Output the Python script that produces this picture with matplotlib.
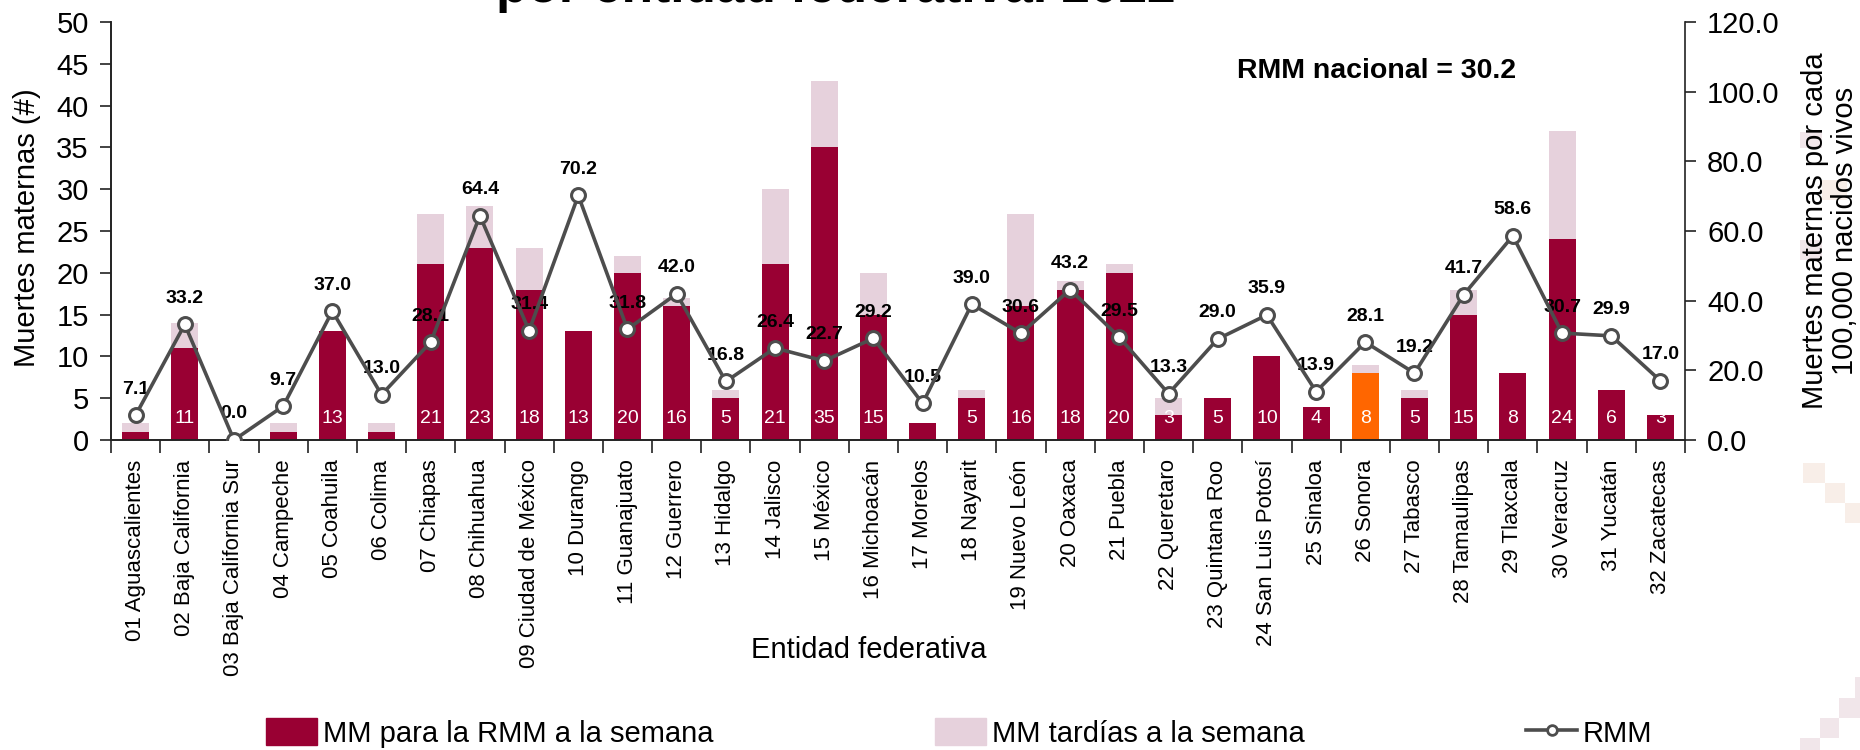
import matplotlib
matplotlib.use("Agg")
import matplotlib.pyplot as plt
import numpy as np
from matplotlib.patches import Patch, Rectangle
from matplotlib.lines import Line2D
from matplotlib.ticker import FormatStrFormatter, FixedLocator

plt.rcParams['font.family'] = ['Liberation Sans', 'DejaVu Sans']

entidades = ["01 Aguascalientes", "02 Baja California", "03 Baja California Sur",
             "04 Campeche", "05 Coahuila", "06 Colima", "07 Chiapas", "08 Chihuahua",
             "09 Ciudad de México", "10 Durango", "11 Guanajuato", "12 Guerrero",
             "13 Hidalgo", "14 Jalisco", "15 México", "16 Michoacán", "17 Morelos",
             "18 Nayarit", "19 Nuevo León", "20 Oaxaca", "21 Puebla", "22 Queretaro",
             "23 Quintana Roo", "24 San Luis Potosí", "25 Sinaloa", "26 Sonora",
             "27 Tabasco", "28 Tamaulipas", "29 Tlaxcala", "30 Veracruz", "31 Yucatán",
             "32 Zacatecas"]
mm_rmm = [1, 11, 0, 1, 13, 1, 21, 23, 18, 13, 20, 16, 5, 21, 35, 15, 2, 5, 16, 18,
          20, 3, 5, 10, 4, 8, 5, 15, 8, 24, 6, 3]
mm_tardias = [1, 3, 0, 1, 0, 1, 6, 5, 5, 0, 2, 1, 1, 9, 8, 5, 0, 1, 11, 1,
              1, 2, 0, 0, 0, 1, 1, 3, 0, 13, 0, 0]
rmm = [7.1, 33.2, 0.0, 9.7, 37.0, 13.0, 28.1, 64.4, 31.4, 70.2, 31.8, 42.0, 16.8,
       26.4, 22.7, 29.2, 10.5, 39.0, 30.6, 43.2, 29.5, 13.3, 29.0, 35.9, 13.9, 28.1,
       19.2, 41.7, 58.6, 30.7, 29.9, 17.0]
destacado = "26 Sonora"
rmm_nacional = 30.2

C_MAIN = '#990033'
C_LATE = '#E6D1DC'
C_HL = '#FF6600'
C_LINE = '#4D4D4D'
W, H = 1860, 750

fig = plt.figure(figsize=(W/100, H/100), dpi=100)
ax = fig.add_axes([111/W, 1-440/H, (1685-111)/W, (440-22)/H])
ax2 = ax.twinx()

x = np.arange(len(entidades))
colors = [C_HL if e == destacado else C_MAIN for e in entidades]
ax.bar(x, mm_rmm, width=0.55, color=colors, zorder=2)
ax.bar(x, mm_tardias, bottom=mm_rmm, width=0.55, color=C_LATE, zorder=2)
for i, v in enumerate(mm_rmm):
    if v >= 3:
        ax.text(i, 2.6, str(v), color='white', ha='center', va='center', fontsize=14, zorder=3)

ax.set_xlim(-0.5, len(x)-0.5)
ax.set_ylim(0, 50)
ax.set_yticks(np.arange(0, 51, 5))
ax.set_xticks(x)
ax.set_xticklabels(entidades, rotation=90, fontsize=16)
ax.xaxis.set_minor_locator(FixedLocator(np.arange(-0.5, len(x), 1.0)))
ax.tick_params(axis='x', which='major', length=0, pad=14)
ax.tick_params(axis='x', which='minor', length=9, width=1.2, color='#222222')
ax.tick_params(axis='y', length=8, width=1.2, labelsize=21, pad=8, color='#222222')

ax2.plot(x, rmm, color=C_LINE, lw=2.6, marker='o', ms=10, mfc='white', mec=C_LINE, mew=2.2, zorder=5)
for i, v in enumerate(rmm):
    ax2.annotate(f"{v:.1f}", (i, v), xytext=(0, 26), textcoords='offset pixels',
                 ha='center', va='center', fontsize=14, fontweight='bold')
ax2.set_ylim(0, 120)
ax2.set_yticks(np.arange(0, 121, 20))
ax2.yaxis.set_major_formatter(FormatStrFormatter('%.1f'))
ax2.tick_params(axis='y', length=8, width=1.2, labelsize=21, pad=8, color='#222222')

for a in (ax, ax2):
    a.spines['top'].set_visible(False)
    for s in ('left', 'right', 'bottom'):
        a.spines[s].set_linewidth(1.2)
        a.spines[s].set_color('#222222')
ax.spines['right'].set_visible(False)

fig.text(27/W, 1-228/H, "Muertes maternas (#)", rotation=90, fontsize=21, ha='center', va='center')
fig.text(1830/W, 1-231/H, "Muertes maternas por cada\n100,000 nacidos vivos", rotation=90,
         fontsize=21, ha='center', va='center', multialignment='center', linespacing=1.05)
fig.text(869/W, 1-650/H, "Entidad federativa", fontsize=21, ha='center', va='center')
fig.text(836/W, 1-2/H, "por entidad federativa. 2022", fontsize=37, fontweight='bold',
         ha='center', va='baseline')
fig.text(1377/W, 1-71/H, f"RMM nacional = {rmm_nacional}", fontsize=20.5, fontweight='bold',
         ha='center', va='center')

handles = [Patch(color=C_MAIN), Patch(color=C_LATE),
           Line2D([], [], color=C_LINE, lw=2.6, marker='o', ms=7, mfc='white', mec=C_LINE, mew=2)]
fig.legend(handles, ["MM para la RMM a la semana", "MM tardías a la semana", "RMM"],
           loc='center', bbox_to_anchor=(959/W, 1-733/H), ncol=3, frameon=False,
           fontsize=21, columnspacing=7.6, handlelength=1.75, handletextpad=0.2,
           handleheight=1.0, borderaxespad=0, borderpad=0)

# decorative squares
peach = '#F8EEE8'
pink = '#F1E6EA'
for (px, py, pw, ph, c) in [(1803, 463, 22, 20, peach), (1825, 483, 20, 20, peach),
                            (1845, 503, 15, 20, peach), (1839, 698, 21, 20, pink),
                            (1820, 718, 19, 20, pink), (1800, 738, 20, 12, pink),
                            (1855, 677, 5, 21, pink), (1800, 132, 22, 16, pink),
                            (1822, 180, 25, 20, peach), (1800, 240, 22, 20, pink)]:
    fig.add_artist(Rectangle((px/W, 1-(py+ph)/H), pw/W, ph/H, transform=fig.transFigure,
                             color=c, zorder=-5, lw=0))

fig.savefig("out.png", dpi=100)
